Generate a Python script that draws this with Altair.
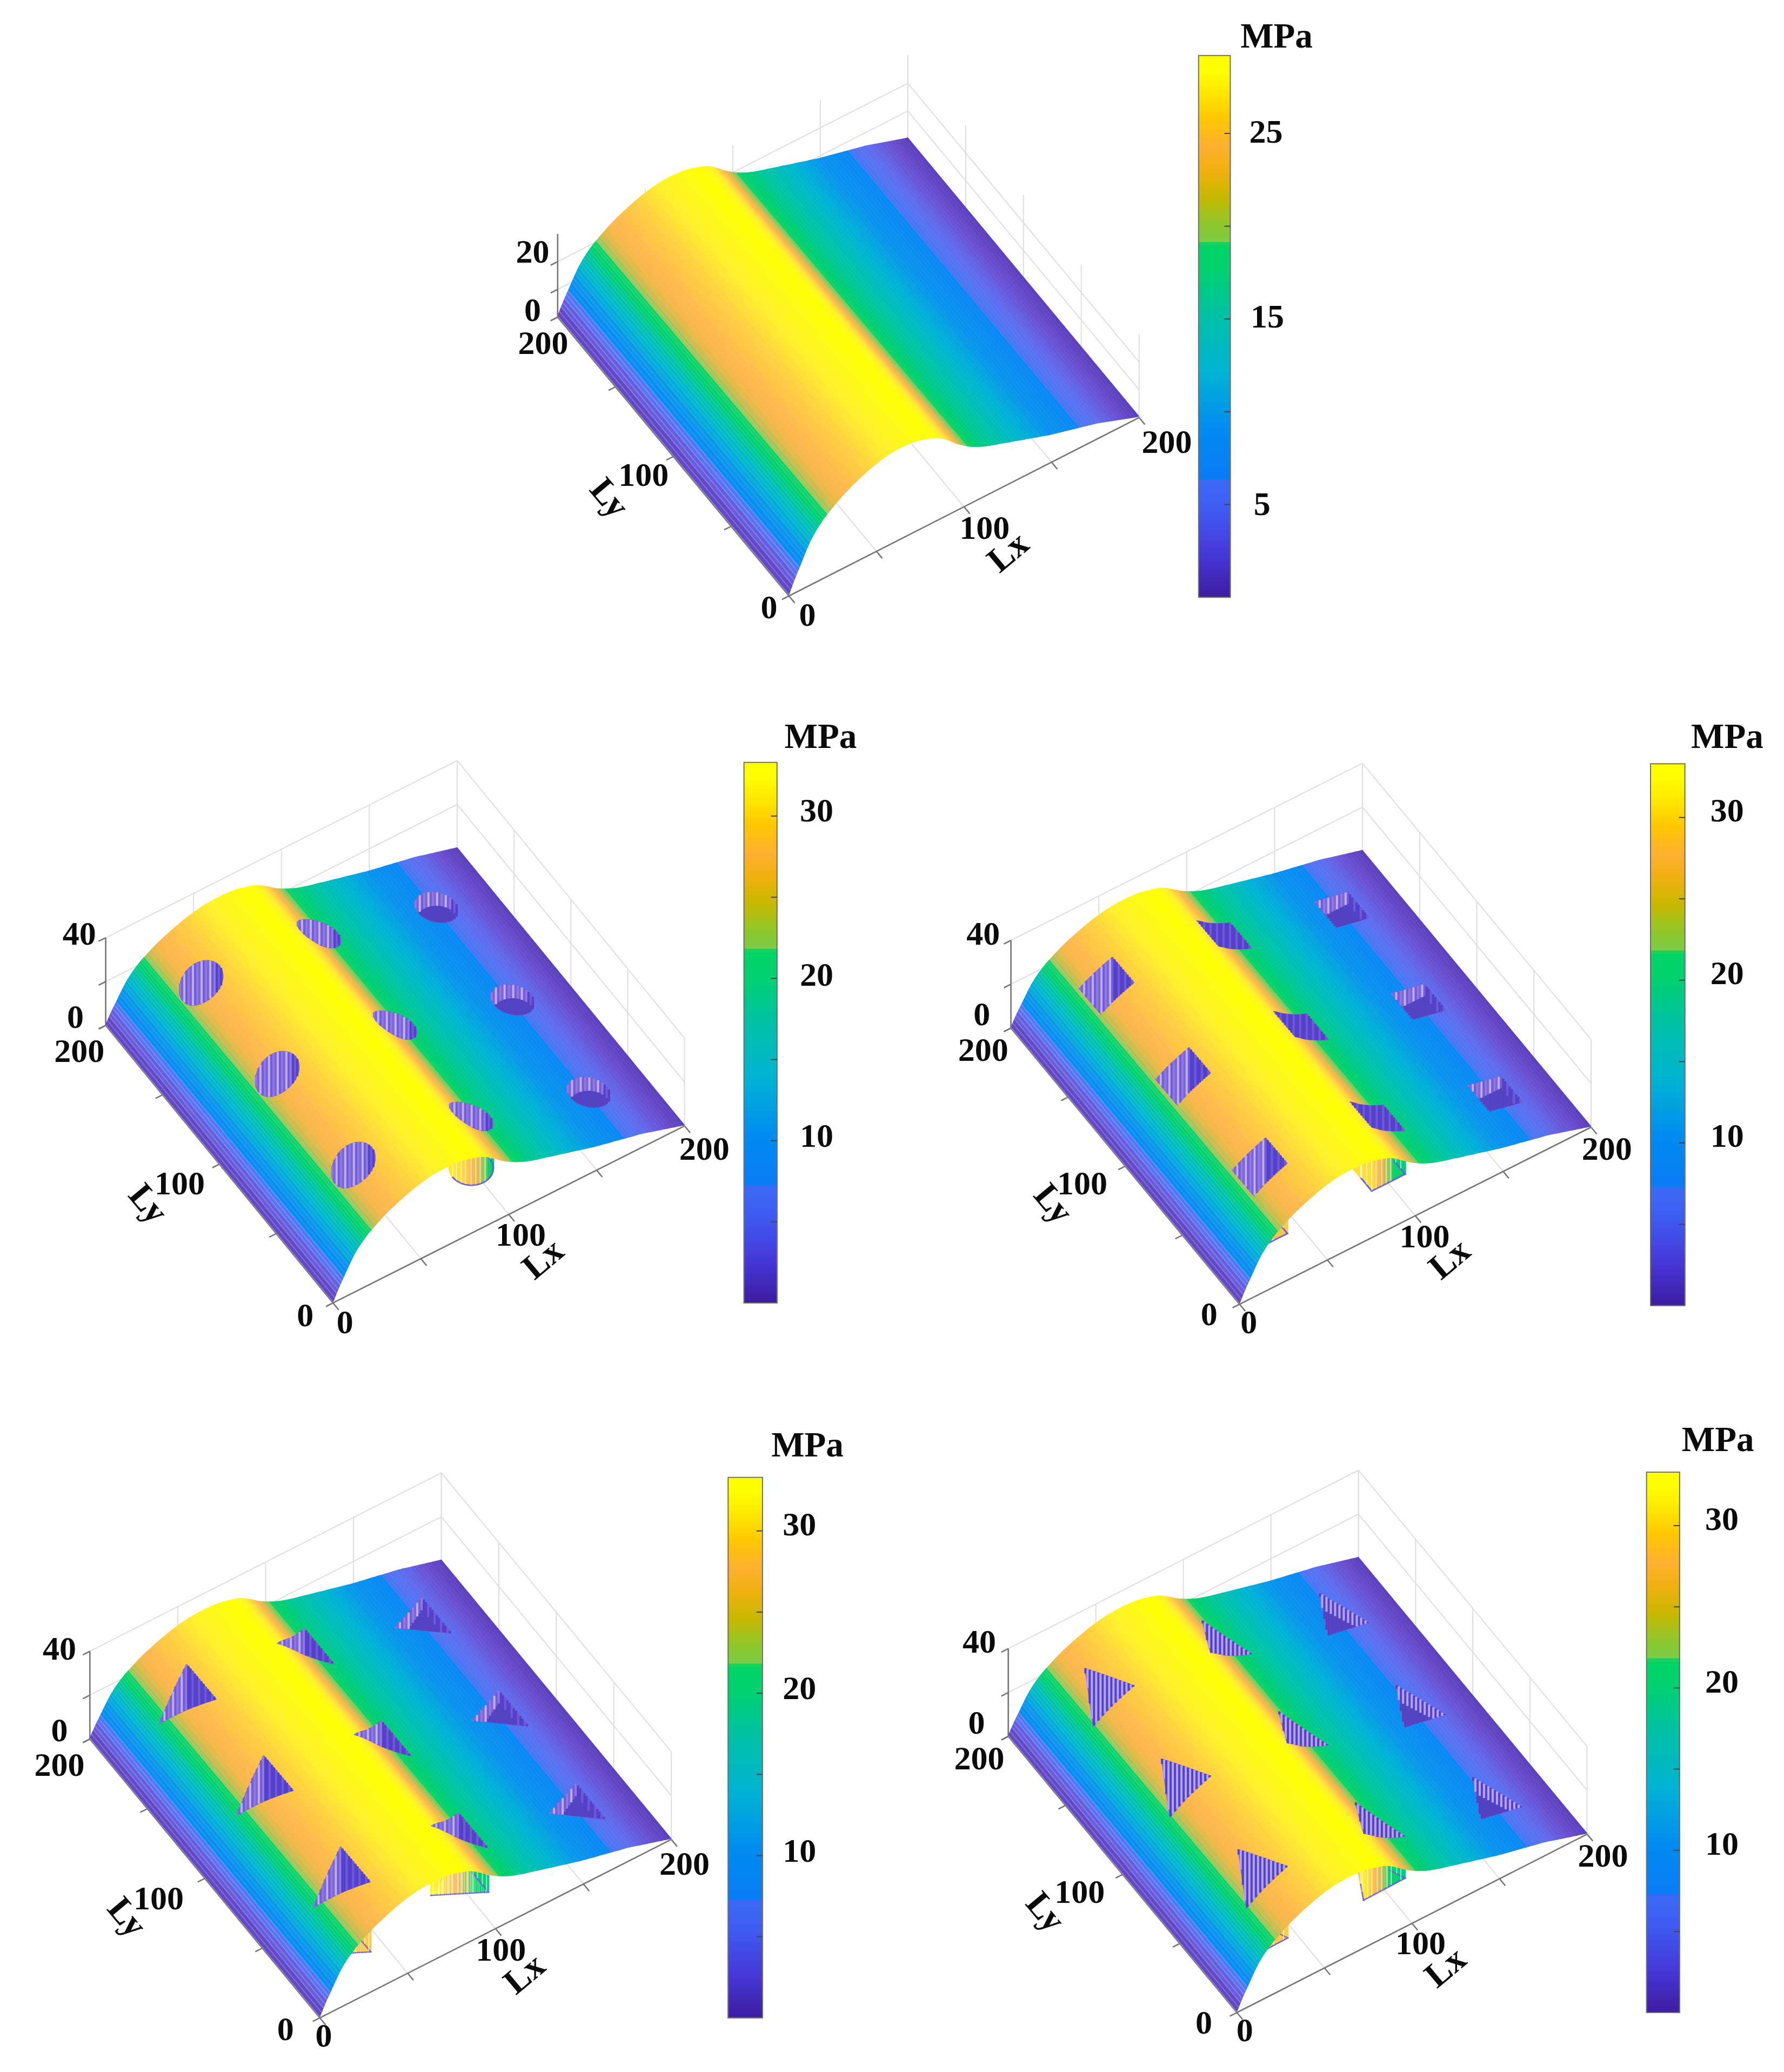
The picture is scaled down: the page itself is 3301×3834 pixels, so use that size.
import numpy as np
import pandas as pd
import altair as alt

alt.data_transformers.disable_max_rows()

# ---------- values ----------
LX_STATIONS = list(range(0, 201, 2))
STRESS_PLAIN = [0.4,3,5.4,7.5,9.8,12,14,15.6,17,18.2,19.3,20.2,21,21.8,22.6,23.3,24,24.6,25.2,25.7,
    26.2,26.7,27.2,27.6,28,28.3,28.6,28.9,29.1,29.3,29.4,29.5,29.5,29.5,29.4,29.3,29.1,28.9,28.6,28.2,
    27.8,27.4,26.9,26.3,25.5,24.6,23.6,22.5,21.5,20.6,19.8,19,18.3,17.7,17.1,16.6,16.1,15.7,15.3,14.9,
    14.6,14.2,13.8,13.4,13.1,12.7,12.3,11.9,11.6,11.2,10.8,10.4,10.1,9.7,9.3,9,8.7,8.4,8.1,7.8,
    7.5,7.2,6.9,6.6,6.3,6,5.7,5.4,5.1,4.7,4.3,3.9,3.5,3.1,2.7,2.3,1.9,1.5,1.1,0.7,0.4]
STRESS_HOLED = [0.4,3.4,6.2,8.6,11.2,13.7,16.0,17.8,19.4,20.7,22.0,23.0,23.9,24.9,25.8,26.6,27.4,28.0,28.7,29.3,
    29.9,30.4,31.0,31.5,31.9,32.3,32.6,32.9,33.2,33.3,33.4,33.5,33.5,33.5,33.4,33.3,33.2,32.9,32.6,32.1,
    31.7,31.2,30.7,30.0,29.1,28.0,26.9,25.7,24.5,23.5,22.6,21.7,20.9,20.2,19.5,18.9,18.4,17.9,17.4,17.0,
    16.6,16.2,15.7,15.3,14.9,14.5,14.0,13.6,13.2,12.8,12.3,11.9,11.5,11.1,10.6,10.3,9.9,9.6,9.2,8.9,
    8.6,8.2,7.9,7.5,7.2,6.8,6.5,6.2,5.8,5.4,4.9,4.4,4.0,3.5,3.1,2.6,2.2,1.7,1.3,0.8,0.4]
# colour seen on the surface at each Lx station, as a fraction of the colour bar
COLOUR_FRACTION = [.01,.07,.154,.226,.288,.356,.411,.466,.521,.582,.623,.668,.719,.753,.788,.812,.825,.836,.846,.853,
    .860,.866,.873,.882,.890,.899,.908,.916,.925,.933,.942,.949,.955,.962,.969,.974,.979,.985,.990,.993,
    .997,.993,.979,.959,.932,.908,.880,.849,.805,.736,.685,.658,.630,.610,.592,.579,.565,.551,.538,.524,
    .514,.5,.486,.473,.459,.445,.432,.418,.404,.390,.377,.363,.349,.336,.322,.308,.295,.284,.274,.260,
    .25,.24,.229,.219,.212,.199,.188,.178,.168,.154,.140,.127,.113,.099,.086,.072,.058,.045,.034,.024,.014]
HOLE_LX = [33, 100, 167]
HOLE_LY = [33, 100, 167]
AXIS_STEPS = [0, 50, 100, 150, 200]

# colour map of the colour bars (fraction of the bar, colour)
CMAP_T = [0, .076, .164, .216, .222, .313, .414, .516, .603, .652, .658, .685, .74, .79, .833, .887, .93, .975, 1]
CMAP_C = ["#3d1c9e", "#4636d6", "#3f5cf2", "#3a6af5", "#0a7cf5", "#008cf0", "#00b2d4", "#00c0a8", "#00d070",
          "#00d464", "#7ecb45", "#8ac830", "#c8b800", "#f0b010", "#ffb030", "#ffc800", "#ffe600", "#ffff00", "#ffff00"]
# the same map as it looks on the mesh, paler through the white hatch
SURF_C = ["#5a3cb8", "#6a50d2", "#5f6ef0", "#4a78f5", "#0a88f5", "#0a94ee", "#00b4d4", "#00c4a8", "#00d070",
          "#10d468", "#6fcb60", "#98c85a", "#d2bc50", "#f4b84a", "#ffb84e", "#ffd63e", "#fff02c", "#fdfa14", "#ffff00"]

P = 3301 / 1350   # layout below is noted in the 1350-wide view

PANELS = [
    dict(O=(597, 451), X=(862, 316), Y=(422, 240), kz=2.1, ks=2.1, zt=[0, 10, 20], ztop=30, cmax=29.2, prof=STRESS_PLAIN,
         shape=None, bar=(907, 931, 42, 452), cbt=[5, 10, 15, 20, 25],
         text=[("MPa", 966, 28, 1.05, 0), ("25", 958, 100, 1, 0), ("15", 959, 240, 1, 0), ("5", 955, 382, 1, 0),
               ("0", 611, 466, 1, 0), ("100", 745, 400, 1, 0), ("200", 883, 335, 1, 0),
               ("0", 582, 460, 1, 0), ("100", 487, 360, 1, 0), ("200", 411, 260, 1, 0),
               ("0", 403, 235, 1, 0), ("20", 403, 191, 1, 0),
               ("Lx", 763, 418, 1.05, 320), ("Ly", 461, 377, 1.05, 50)]),
    dict(O=(252, 986), X=(518, 852), Y=(80, 776), kz=1.66, ks=1.59, zt=[0, 20, 40], ztop=40, cmax=33.3, prof=STRESS_HOLED,
         shape="circle", bar=(563, 588, 577, 986), cbt=[5, 10, 15, 20, 25, 30],
         text=[("MPa", 621, 558, 1.05, 0), ("30", 618, 614, 1, 0), ("20", 618, 738, 1, 0), ("10", 618, 860, 1, 0),
               ("0", 261, 1001, 1, 0), ("100", 394, 935, 1, 0), ("200", 533, 870, 1, 0),
               ("0", 231, 996, 1, 0), ("100", 136, 896, 1, 0), ("200", 60, 796, 1, 0),
               ("0", 57, 770, 1, 0), ("40", 60, 707, 1, 0),
               ("Lx", 411, 953, 1.05, 320), ("Ly", 112, 911, 1.05, 50)]),
    dict(O=(938, 987), X=(1204, 853), Y=(765, 778), kz=1.66, ks=1.59, zt=[0, 20, 40], ztop=40, cmax=33.3, prof=STRESS_HOLED,
         shape="square", bar=(1249, 1275, 578, 988), cbt=[5, 10, 15, 20, 25, 30],
         text=[("MPa", 1307, 558, 1.05, 0), ("30", 1307, 614, 1, 0), ("20", 1307, 737, 1, 0), ("10", 1307, 860, 1, 0),
               ("0", 945, 1001, 1, 0), ("100", 1078, 936, 1, 0), ("200", 1216, 870, 1, 0),
               ("0", 915, 995, 1, 0), ("100", 819, 896, 1, 0), ("200", 744, 795, 1, 0),
               ("0", 743, 768, 1, 0), ("40", 744, 707, 1, 0),
               ("Lx", 1097, 953, 1.05, 320), ("Ly", 797, 911, 1.05, 50)]),
    dict(O=(242, 1527), X=(508, 1392), Y=(68, 1316), kz=1.66, ks=1.59, zt=[0, 20, 40], ztop=40, cmax=33.3, prof=STRESS_HOLED,
         shape="tri_a", bar=(551, 577, 1118, 1527), cbt=[5, 10, 15, 20, 25, 30],
         text=[("MPa", 611, 1094, 1.05, 0), ("30", 605, 1154, 1, 0), ("20", 605, 1278, 1, 0), ("10", 605, 1401, 1, 0),
               ("0", 245, 1541, 1, 0), ("100", 379, 1476, 1, 0), ("200", 518, 1411, 1, 0),
               ("0", 216, 1536, 1, 0), ("100", 120, 1437, 1, 0), ("200", 45, 1336, 1, 0),
               ("0", 45, 1310, 1, 0), ("40", 45, 1248, 1, 0),
               ("Lx", 397, 1494, 1.05, 320), ("Ly", 96, 1451, 1.05, 50)]),
    dict(O=(936, 1523), X=(1201, 1388), Y=(763, 1314), kz=1.66, ks=1.59, zt=[0, 20, 40], ztop=40, cmax=33.3, prof=STRESS_HOLED,
         shape="tri_b", bar=(1246, 1271, 1114, 1523), cbt=[5, 10, 15, 20, 25, 30],
         text=[("MPa", 1300, 1090, 1.05, 0), ("30", 1303, 1150, 1, 0), ("20", 1303, 1273, 1, 0), ("10", 1303, 1396, 1, 0),
               ("0", 942, 1537, 1, 0), ("100", 1075, 1471, 1, 0), ("200", 1213, 1405, 1, 0),
               ("0", 911, 1531, 1, 0), ("100", 817, 1432, 1, 0), ("200", 741, 1331, 1, 0),
               ("0", 739, 1304, 1, 0), ("40", 741, 1243, 1, 0),
               ("Lx", 1094, 1489, 1.05, 320), ("Ly", 791, 1447, 1.05, 50)]),
]

SHAPES = {
    "square": [(9.5, 9.5), (9.5, -9.5), (-9.5, -9.5), (-9.5, 9.5)],
    "tri_a": [(9, 13), (9, -13), (-15, 0)],
    "tri_b": [(0.5, 17.5), (12, -8.5), (-12, -9)],
}
GRID = "#dedede"
AXIS = "#767676"
FONT_PX = 62


def project(p, lx, ly, z, surface=False):
    O, X, Y = np.array(p["O"], float), np.array(p["X"], float), np.array(p["Y"], float)
    lx, ly, z = np.asarray(lx, float), np.asarray(ly, float), np.asarray(z, float)
    px = O[0] + (X[0] - O[0]) * lx / 200 + (Y[0] - O[0]) * ly / 200
    py = O[1] + (X[1] - O[1]) * lx / 200 + (Y[1] - O[1]) * ly / 200
    if surface:
        py = py - p["ks"] * z * (1.115 - 0.1 * ly / 200)
    else:
        py = py - p["kz"] * z
    return px * P, py * P


def rim_points(p, cx, cy):
    if p["shape"] == "circle":
        a = np.linspace(0, 2 * np.pi, 121)
        lx, ly = cx + 10.5 * np.cos(a), cy + 10.5 * np.sin(a)
    else:
        v = SHAPES[p["shape"]]
        v = v + v[:1]
        lx, ly = [], []
        for (a0, b0), (a1, b1) in zip(v[:-1], v[1:]):
            s = np.linspace(0, 1, 31)
            lx += list(cx + a0 + (a1 - a0) * s)
            ly += list(cy + b0 + (b1 - b0) * s)
        lx, ly = np.array(lx), np.array(ly)
    z = np.interp(lx, LX_STATIONS, p["prof"])
    return lx, ly, z


strips, grid_r, axis_r, under_r, under_w, hole_polys, hole_r, bar_c, bar_t, bar_b, texts, mesh = [], [], [], [], [], [], [], [], [], [], [], []
sid = 0
cfrac = np.array(COLOUR_FRACTION, float)
assert len(cfrac) == len(LX_STATIONS)
for pi, p in enumerate(PANELS):
    assert len(p["prof"]) == len(LX_STATIONS)
    lxs, zs = np.array(LX_STATIONS, float), np.array(p["prof"], float)
    # surface strips
    for i in range(len(lxs) - 1):
        t = 0.5 * (cfrac[i] + cfrac[i + 1])
        corners = [(lxs[i], 0, zs[i]), (lxs[i + 1], 0, zs[i + 1]), (lxs[i + 1], 200, zs[i + 1]), (lxs[i], 200, zs[i]), (lxs[i], 0, zs[i])]
        for v, (a, b, c) in enumerate(corners):
            x, y = project(p, a, b, c, True)
            strips.append(dict(id=sid, v=v, x=float(x), y=float(y), t=float(t)))
        sid += 1
    # mesh lines along Ly
    for lv in list(np.arange(0, 24, 1.0)) + list(np.arange(24, 201, 2.0)):
        zv = float(np.interp(lv, lxs, zs))
        x0, y0 = project(p, lv, 0, zv, True)
        x1, y1 = project(p, lv, 200, zv, True)
        steep = lv < 24
        mesh.append(dict(x=float(x0), y=float(y0), x2=float(x1), y2=float(y1), o=(0.2 if lv < 7 else 0.1) if steep else 0.07, w=2.2 if steep else 1.0))
    # box grid
    for s in AXIS_STEPS:
        for a, b in [((s, 0, 0), (s, 200, 0)), ((0, s, 0), (200, s, 0)),
                     ((s, 200, 0), (s, 200, p["ztop"])), ((200, s, 0), (200, s, p["ztop"]))]:
            x0, y0 = project(p, *a)
            x1, y1 = project(p, *b)
            grid_r.append(dict(x=float(x0), y=float(y0), x2=float(x1), y2=float(y1)))
    for zv in p["zt"]:
        for a, b in [((0, 200, zv), (200, 200, zv)), ((200, 200, zv), (200, 0, zv))]:
            x0, y0 = project(p, *a)
            x1, y1 = project(p, *b)
            grid_r.append(dict(x=float(x0), y=float(y0), x2=float(x1), y2=float(y1)))
    # axes
    for a, b in [((0, 0, 0), (200, 0, 0)), ((0, 0, 0), (0, 200, 0)), ((0, 200, 0), (0, 200, p["ztop"]))]:
        x0, y0 = project(p, *a)
        x1, y1 = project(p, *b)
        axis_r.append(dict(x=float(x0), y=float(y0), x2=float(x1), y2=float(y1)))
    for s in AXIS_STEPS:
        for a, b in [((s, 0, 0), (s, -5, 0)), ((0, s, 0), (-4, s, 0))]:
            x0, y0 = project(p, *a)
            x1, y1 = project(p, *b)
            axis_r.append(dict(x=float(x0), y=float(y0), x2=float(x1), y2=float(y1)))
    for zv in p["zt"]:
        x0, y0 = project(p, 0, 200, zv)
        x1, y1 = project(p, -4, 200, zv)
        axis_r.append(dict(x=float(x0), y=float(y0), x2=float(x1), y2=float(y1)))
    # holes
    if p["shape"]:
        for cx in HOLE_LX:
            for cy in HOLE_LY:
                lx, ly, z = rim_points(p, cx, cy)
                sx, sy = project(p, lx, ly, z, True)
                for v, (a, b) in enumerate(zip(sx, sy)):
                    hole_polys.append(dict(id=sid, v=v, x=float(a), y=float(b)))
                sid += 1
                xtop = sx[np.argmin(sy)]
                xmin, xmax = sx.min(), sx.max()
                columns = np.arange(xmin + 1.5, xmax - 0.5, 4.0)
                for k, col in enumerate(columns):
                    ys, zz = [], []
                    for j in range(len(sx) - 1):
                        a0, a1 = sx[j], sx[j + 1]
                        if (a0 - col) * (a1 - col) <= 0 and a0 != a1:
                            f = (col - a0) / (a1 - a0)
                            ys.append(sy[j] + f * (sy[j + 1] - sy[j]))
                            zz.append(z[j] + f * (z[j + 1] - z[j]))
                    if len(ys) < 2:
                        continue
                    iu = int(np.argmin(ys))
                    yu, yl = ys[iu], max(ys)
                    yw = min(yu + zz[iu] * p["ks"] * P, yl)
                    if p["shape"] == "circle":
                        dark = col > xmax - 0.18 * (xmax - xmin)
                    elif p["shape"] == "tri_b":
                        dark = k % 2 == 0
                    else:
                        dark = col > xtop
                    if p["shape"] == "tri_b":
                        c = "#5540cc" if dark else "#b4a4ee"
                    elif dark:
                        c = "#5440cc" if k % 3 else "#6f5ad6"
                    else:
                        c = ["#8f78e2", "#7d66da", "#bdaef2", "#735cd6"][k % 4]
                    hole_r.append(dict(x=float(col), y=float(yu), y2=float(yw), c=c))
                    if yl > yw:
                        hole_r.append(dict(x=float(col), y=float(yw), y2=float(yl), c="#5343c2"))
                # walls seen under the front edge
                show_under = cy == HOLE_LY[0] and (cx == HOLE_LX[1] or (cx == HOLE_LX[0] and p["shape"] != "circle"))
                if show_under:
                    fx, fy = project(p, lx, ly, 0 * z, True)
                    order = np.argsort(sy)
                    tcol = np.interp(lx, lxs, cfrac)
                    for j in order:
                        under_r.append(dict(x=float(sx[j]), y=float(sy[j]), y2=float(fy[j]), t=float(tcol[j])))
                    for col in np.arange(fx.min() + 4, fx.max(), 9.0):
                        j = int(np.argmin(np.abs(sx - col) + 1000 * (ly > cy)))
                        under_w.append(dict(x=float(sx[j]), y=float(sy[j]), y2=float(fy[j]) - 2))
                    for j in order:
                        if ly[j] <= cy:
                            under_r.append(dict(x=float(sx[j]), y=float(fy[j]) - 2.5, y2=float(fy[j]), t=0.12))
    # colour bar
    x0, x1, y0, y1 = [v * P for v in p["bar"]]
    levels = np.linspace(0, 1, 161)
    for a, b in zip(levels[:-1], levels[1:]):
        bar_c.append(dict(x=x0, x2=x1, y=y1 - (y1 - y0) * a, y2=y1 - (y1 - y0) * b, c=float((a + b) / 2)))
    bar_b.append(dict(x=x0, x2=x1, y=y0, y2=y1))
    for tv in p["cbt"]:
        yy = y1 - (y1 - y0) * tv / p["cmax"]
        bar_t.append(dict(x=x1 - 11, x2=x1, y=yy, y2=yy))
    for s, a, b, f, ang in p["text"]:
        texts.append(dict(s=s, x=a * P, y=b * P, size=FONT_PX * f, ang=ang))

X = alt.X("x:Q", scale=alt.Scale(domain=[8, 3293], nice=False, zero=False), axis=None)
Y = alt.Y("y:Q", scale=alt.Scale(domain=[3826, 8], nice=False, zero=False), axis=None)
surf_scale = alt.Scale(domain=CMAP_T, range=SURF_C, interpolate="rgb", clamp=True)
bar_scale = alt.Scale(domain=CMAP_T, range=CMAP_C, interpolate="rgb", clamp=True)
F = alt.Fill("t:Q", scale=surf_scale, legend=None)
S = alt.Stroke("t:Q", scale=surf_scale, legend=None)


def rules(rows, **kw):
    return alt.Chart(pd.DataFrame(rows)).mark_rule(**kw).encode(X, Y, x2="x2:Q", y2="y2:Q")


grid_l = rules(grid_r, color=GRID, strokeWidth=2)
axis_l = rules(axis_r, color=AXIS, strokeWidth=2.6)
under_l = alt.Chart(pd.DataFrame(under_r)).mark_rule(strokeWidth=3).encode(X, Y, y2="y2:Q", stroke=S)
under_s = alt.Chart(pd.DataFrame(under_w)).mark_rule(strokeWidth=2, color="white", opacity=0.6).encode(X, Y, y2="y2:Q")
surf_l = alt.Chart(pd.DataFrame(strips)).mark_line(strokeWidth=1, interpolate="linear").encode(
    X, Y, detail="id:N", order="v:Q", fill=F, stroke=S)
mesh_l = alt.Chart(pd.DataFrame(mesh)).mark_rule(color="white").encode(
    X, Y, x2="x2:Q", y2="y2:Q", opacity=alt.Opacity("o:Q", scale=None), strokeWidth=alt.StrokeWidth("w:Q", scale=None))
poly_l = alt.Chart(pd.DataFrame(hole_polys)).mark_line(strokeWidth=1, fill="#7a62d8", stroke="#7a62d8").encode(
    X, Y, detail="id:N", order="v:Q")
hole_l = alt.Chart(pd.DataFrame(hole_r)).mark_rule(strokeWidth=4.2).encode(
    X, Y, y2="y2:Q", stroke=alt.Stroke("c:N", scale=None))
bar_l = alt.Chart(pd.DataFrame(bar_c)).mark_rect(strokeWidth=1.5).encode(
    X, Y, x2="x2:Q", y2="y2:Q",
    fill=alt.Fill("c:Q", scale=bar_scale, legend=None),
    stroke=alt.Stroke("c:Q", scale=bar_scale, legend=None))
border_l = alt.Chart(pd.DataFrame(bar_b)).mark_rect(fillOpacity=0, stroke="#6f6f6f", strokeWidth=2).encode(X, Y, x2="x2:Q", y2="y2:Q")
tick_l = rules(bar_t, color="#444444", strokeWidth=2)
text_l = alt.Chart(pd.DataFrame(texts)).mark_text(
    font="Liberation Serif", fontWeight="bold", color="#0a0a0a", align="center", baseline="middle").encode(
    X, Y, text="s:N", size=alt.Size("size:Q", scale=None), angle=alt.Angle("ang:Q", scale=None))

chart = alt.layer(grid_l, under_l, under_s, axis_l, surf_l, mesh_l, poly_l, hole_l, bar_l, border_l, tick_l, text_l).properties(
    width=3285, height=3818, padding=0, background="white"
).resolve_scale(color="independent", fill="independent", stroke="independent").configure_view(stroke=None)

chart.save("out.html", embed_options={"renderer": "svg", "actions": False})
